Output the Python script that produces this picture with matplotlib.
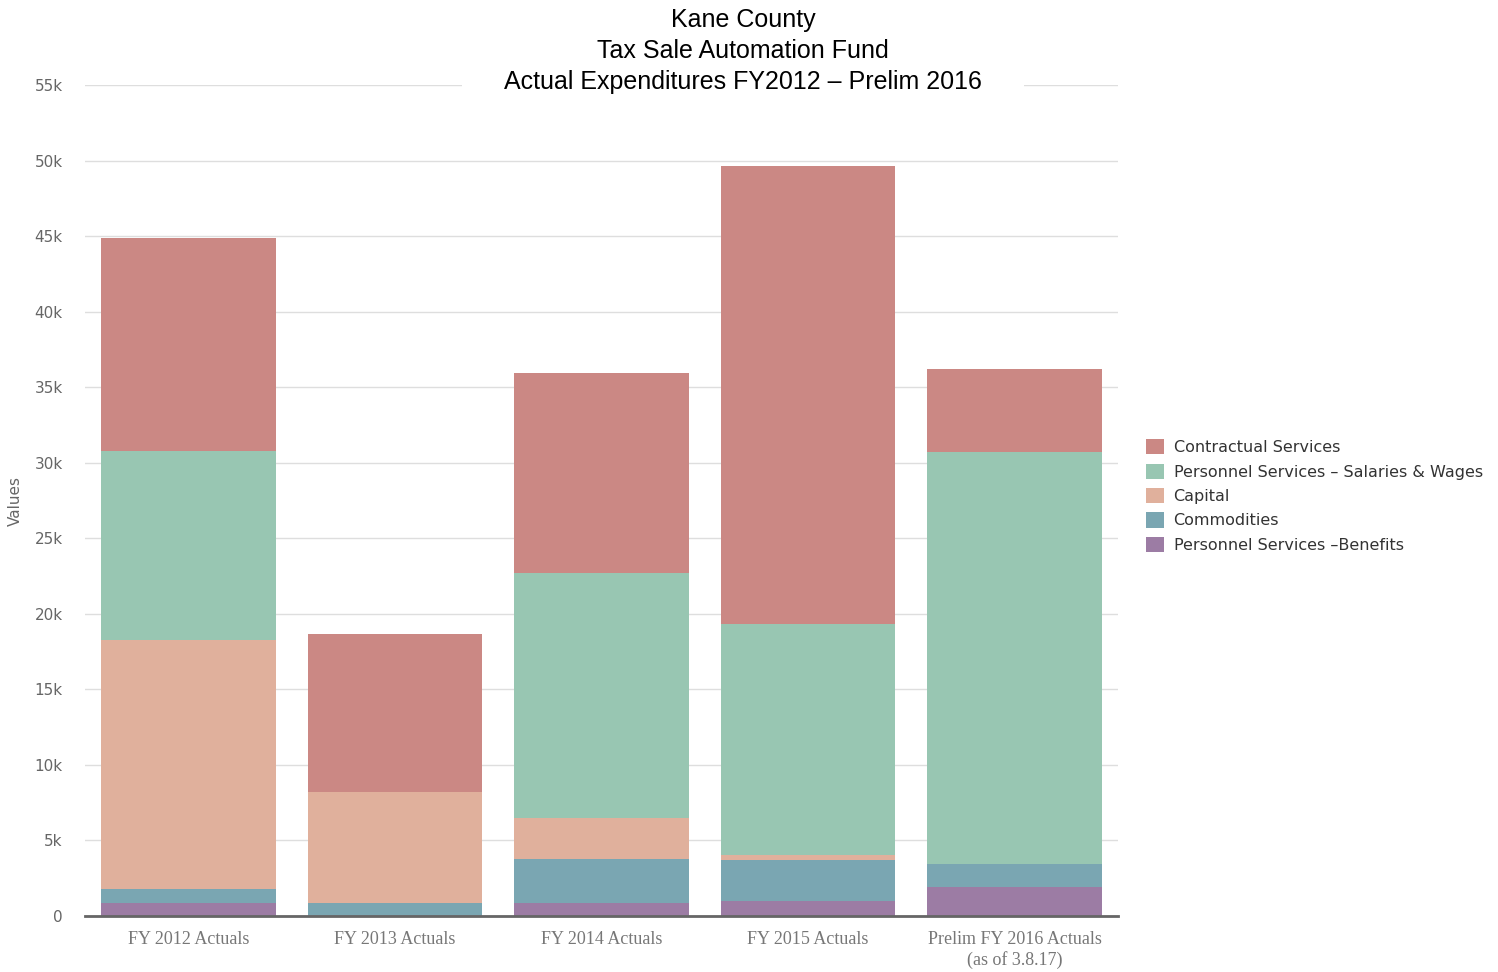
"""
Kane County tax sale automation fund, stacked expenditures by year
"""

from matplotlib import pyplot as plt
import numpy as np

categories = ['FY 2012 Actuals', 'FY 2013 Actuals', 'FY 2014 Actuals',
              'FY 2015 Actuals', 'Prelim FY 2016 Actuals\n(as of 3.8.17)']

# stacked bottom to top
benefits = [860, 0, 860, 1010, 1900]
commodities = [930, 860, 2940, 2700, 1540]
capital = [16490, 7350, 2710, 350, 0]
salaries = [12520, 0, 16210, 15280, 27290]
contractual = [14050, 10470, 13240, 30270, 5500]

series = [('Personnel Services –Benefits', benefits, '#9c7ca4'),
          ('Commodities', commodities, '#7aa6b2'),
          ('Capital', capital, '#e0b09c'),
          ('Personnel Services – Salaries & Wages', salaries, '#98c6b2'),
          ('Contractual Services', contractual, '#cb8884')]

yticks = np.arange(0, 55001, 5000)
ytick_labels = ['0'] + ['%dk' % (v // 1000) for v in yticks[1:]]

plt.close('all')
fig = plt.figure(figsize=(14.98, 9.72), dpi=100)
ax = fig.add_axes([85/1498, 1-916/972, (1118-85)/1498, (916-85)/972])

x = np.arange(len(categories))
bottom = np.zeros(len(categories))
handles = []
for name, vals, col in series:
    b = ax.bar(x, vals, 0.845, bottom=bottom, color=col, label=name, zorder=2)
    bottom += np.array(vals)
    handles.append(b)

ax.set_xlim(-0.5, len(categories) - 0.5)
ax.set_ylim(0, 55000)
ax.set_yticks(yticks)
ax.set_yticklabels(ytick_labels, fontsize=11, color='#666666', family='DejaVu Sans')
ax.set_xticks(x)
ax.set_xticklabels(categories, fontsize=13, color='#777777', family='Liberation Serif')
ax.tick_params(axis='both', length=0)
ax.tick_params(axis='y', pad=16)
ax.tick_params(axis='x', pad=11)
ax.grid(axis='y', color='#dedede', lw=1, zorder=0)
for s in ['top', 'right', 'left']:
    ax.spines[s].set_visible(False)
ax.spines['bottom'].set_color('#666666')
ax.spines['bottom'].set_linewidth(2)
ax.spines['bottom'].set_zorder(3)

ax.set_ylabel('Values', fontsize=11, color='#666666')
ax.yaxis.set_label_coords(-62/1033, 0.5)

fig.text(743/1498, 1-51/972, 'Kane County\nTax Sale Automation Fund\nActual Expenditures FY2012 – Prelim 2016',
         ha='center', va='center', fontsize=18, family='Liberation Sans', color='black',
         linespacing=1.36, bbox=dict(facecolor='white', edgecolor='none', pad=30))

leg = fig.legend(handles[::-1], [h.get_label() for h in handles[::-1]],
                 loc='center left', bbox_to_anchor=(1132/1498, 1-496/972),
                 frameon=False, fontsize=11.5, handlelength=1.1, handleheight=1.1,
                 handletextpad=0.6, labelspacing=0.52)
for t in leg.get_texts():
    t.set_color('#333333')

fig.savefig('out.png', dpi=100)
